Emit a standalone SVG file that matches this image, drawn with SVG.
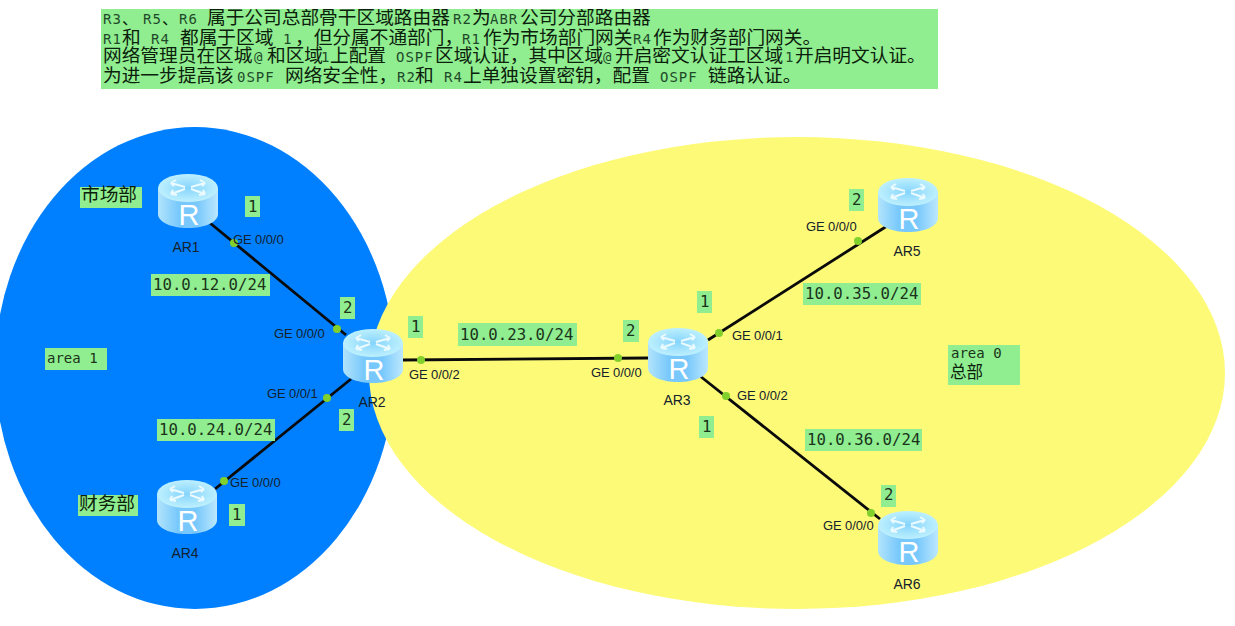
<svg xmlns="http://www.w3.org/2000/svg" width="1235" height="626" viewBox="0 0 1235 626">
<style>
.lb{fill:#90ee90}
.m{font-family:"DejaVu Sans Mono","Liberation Mono",monospace;font-size:15.7px;fill:#1a331a}
.n{font-family:"DejaVu Sans Mono","Liberation Mono","Noto Sans CJK SC",monospace;font-size:14px;letter-spacing:1px;fill:#1f4a2a}
.c{font-family:"Noto Sans CJK SC",sans-serif;font-size:18.7px;fill:#0b200b}
.if{font-family:"Liberation Sans",Arial,sans-serif;font-size:13px;letter-spacing:-.1px;fill:#14222c}
.rn{font-family:"Liberation Sans",Arial,sans-serif;font-size:14px;fill:#14222c}
.ln{stroke:#0a0a0a;stroke-width:2.8;fill:none}
.dot{fill:#82d02c}
.ar{fill:none;stroke:#eafaff;stroke-width:2}
</style>
<defs>
<linearGradient id="side" x1="0" x2="1" y1="0" y2="0"><stop offset="0" stop-color="#b2e4fb"/><stop offset=".35" stop-color="#78c8fc"/><stop offset=".65" stop-color="#78c8fc"/><stop offset="1" stop-color="#bce8fd"/></linearGradient>
<radialGradient id="top"><stop offset="0" stop-color="#86d4fc"/><stop offset="1" stop-color="#bdf0fe"/></radialGradient>
<clipPath id="bc"><rect x="101" y="9" width="837" height="80"/></clipPath>
<g id="router">
<path d="M0 14V40C0 48 13 54 30 54S60 48 60 40V14Z" fill="url(#side)"/>
<ellipse cx="30" cy="14" rx="30" ry="14" fill="url(#top)"/>
<path class="ar" d="M13 9L27 13M13 9l5-3M13 9l3 3M47 9L33 13M47 9l-5-3M47 9l-3 3M13 20L27 15M13 20l6 1M13 20l2-4M47 20L33 15M47 20l-6 1M47 20l-2-4"/>
<text x="31" y="51" text-anchor="middle" font-family="Liberation Sans,Arial,sans-serif" font-size="29" fill="#fff">R</text>
</g>
</defs>
<rect width="1235" height="626" fill="#fff"/>
<ellipse cx="195" cy="368" rx="200" ry="241" fill="#0080ff"/>
<ellipse cx="797" cy="373" rx="428" ry="236" fill="#fdfa78"/>
<g id="note">
<rect class="lb" x="101" y="9" width="837" height="80"/>
<text clip-path="url(#bc)"><tspan class="n" x="103" y="23.5">R3</tspan><tspan class="c" x="122" y="23.5" style="font-size:16px">、</tspan><tspan class="n" x="143" y="23.5">R5</tspan><tspan class="c" x="162" y="23.5" style="font-size:16px">、</tspan><tspan class="n" x="179" y="23.5">R6</tspan><tspan class="c" x="207" y="23.5">属于公司总部骨干区域路由器</tspan><tspan class="n" x="453" y="23.5">R2</tspan><tspan class="c" x="472" y="23.5">为</tspan><tspan class="n" x="490" y="23.5">ABR</tspan><tspan class="c" x="520" y="23.5">公司分部路由器</tspan><tspan class="n" x="103" y="43.5">R1</tspan><tspan class="c" x="122" y="43.5">和</tspan><tspan class="n" x="151" y="43.5">R4</tspan><tspan class="c" x="180" y="43.5">都属于区域</tspan><tspan class="n" x="283" y="43.5">1</tspan><tspan class="c" x="295" y="43.5">，但分属不通部门，</tspan><tspan class="n" x="462" y="43.5">R1</tspan><tspan class="c" x="483" y="43.5">作为市场部门网关</tspan><tspan class="n" x="633" y="43.5">R4</tspan><tspan class="c" x="653" y="43.5">作为财务部门网关。</tspan><tspan class="c" x="103" y="62">网络管理员在区城</tspan><tspan class="n" x="254" y="62">@</tspan><tspan class="c" x="267" y="62">和区域</tspan><tspan class="n" x="321" y="62">1</tspan><tspan class="c" x="330" y="62">上配置</tspan><tspan class="n" x="396" y="62">OSPF</tspan><tspan class="c" x="435" y="62">区域认证，其中区域</tspan><tspan class="n" x="603" y="62">@</tspan><tspan class="c" x="615" y="62">开启密文认证工区域</tspan><tspan class="n" x="785" y="62">1</tspan><tspan class="c" x="795" y="62">开启明文认证。</tspan><tspan class="c" x="103" y="82">为进一步提高该</tspan><tspan class="n" x="237" y="82">0SPF</tspan><tspan class="c" x="285" y="82">网络安全性，</tspan><tspan class="n" x="397" y="82">R2</tspan><tspan class="c" x="415" y="82">和</tspan><tspan class="n" x="444" y="82">R4</tspan><tspan class="c" x="463" y="82">上单独设置密钥，配置</tspan><tspan class="n" x="660" y="82">OSPF</tspan><tspan class="c" x="708" y="82">链路认证。</tspan></text>
</g>
<g id="connectors">
<path class="ln" d="M210 223L346 335"/>
<path class="ln" d="M351 379L215 489"/>
<path class="ln" d="M403 360L648 358"/>
<path class="ln" d="M708 340L887 226"/>
<path class="ln" d="M700 376L880 519"/>
</g>
<g id="ports">
<circle class="dot" cx="234" cy="243" r="4"/><circle class="dot" cx="337" cy="329" r="4"/><circle class="dot" cx="421" cy="360" r="4"/><circle class="dot" cx="327" cy="398" r="4"/><circle class="dot" cx="224" cy="481" r="4"/><circle class="dot" cx="618" cy="358" r="4"/><circle class="dot" cx="719" cy="333" r="4"/><circle class="dot" cx="726" cy="396" r="4"/><circle class="dot" cx="858" cy="241" r="4"/><circle class="dot" cx="871" cy="513" r="4"/>
<text class="if" x="233" y="244">GE 0/0/0</text><text class="if" x="274" y="338">GE 0/0/0</text><text class="if" x="409" y="379">GE 0/0/2</text><text class="if" x="267" y="398">GE 0/0/1</text><text class="if" x="230" y="487">GE 0/0/0</text><text class="if" x="591" y="377">GE 0/0/0</text><text class="if" x="732" y="340">GE 0/0/1</text><text class="if" x="737" y="400">GE 0/0/2</text><text class="if" x="806" y="231">GE 0/0/0</text><text class="if" x="823" y="530">GE 0/0/0</text>
</g>
<g id="AR1"><use href="#router" x="158" y="174"/><text class="rn" x="186" y="252" text-anchor="middle">AR1</text></g>
<g id="AR2"><use href="#router" x="343" y="329"/><text class="rn" x="372" y="407" text-anchor="middle">AR2</text></g>
<g id="AR3"><use href="#router" x="648" y="328"/><text class="rn" x="677" y="405" text-anchor="middle">AR3</text></g>
<g id="AR4"><use href="#router" x="157" y="480"/><text class="rn" x="185" y="558" text-anchor="middle">AR4</text></g>
<g id="AR5"><use href="#router" x="878" y="178"/><text class="rn" x="907" y="256" text-anchor="middle">AR5</text></g>
<g id="AR6"><use href="#router" x="878" y="511"/><text class="rn" x="907" y="589" text-anchor="middle">AR6</text></g>
<g id="labels">
<rect class="lb" x="80" y="187" width="62" height="21"/><text class="c" x="81" y="201">市场部</text>
<rect class="lb" x="78" y="495" width="60" height="21"/><text class="c" x="79" y="510">财务部</text>
<rect class="lb" x="245" y="196" width="15" height="21"/><text class="m" x="248" y="212">1</text>
<rect class="lb" x="340" y="297" width="15" height="22"/><text class="m" x="343" y="313">2</text>
<rect class="lb" x="408" y="316" width="15" height="22"/><text class="m" x="411" y="332">1</text>
<rect class="lb" x="623" y="320" width="16" height="22"/><text class="m" x="626" y="336">2</text>
<rect class="lb" x="697" y="291" width="15" height="22"/><text class="m" x="700" y="307">1</text>
<rect class="lb" x="849" y="189" width="15" height="22"/><text class="m" x="852" y="205">2</text>
<rect class="lb" x="339" y="409" width="15" height="22"/><text class="m" x="342" y="425">2</text>
<rect class="lb" x="229" y="504" width="16" height="22"/><text class="m" x="232" y="520">1</text>
<rect class="lb" x="699" y="416" width="15" height="22"/><text class="m" x="702" y="432">1</text>
<rect class="lb" x="881" y="485" width="15" height="22"/><text class="m" x="884" y="500">2</text>
<rect class="lb" x="151" y="274" width="119" height="22"/><text class="m" x="153" y="290">10.0.12.0/24</text>
<rect class="lb" x="458" y="323" width="119" height="23"/><text class="m" x="460" y="340">10.0.23.0/24</text>
<rect class="lb" x="803" y="283" width="118" height="22"/><text class="m" x="805" y="299">10.0.35.0/24</text>
<rect class="lb" x="157" y="419" width="118" height="22"/><text class="m" x="159" y="435">10.0.24.0/24</text>
<rect class="lb" x="805" y="429" width="117" height="22"/><text class="m" x="807" y="445">10.0.36.0/24</text>
<rect class="lb" x="45" y="348" width="62" height="22"/><text class="m" x="47" y="363" style="font-size:14px">area 1</text>
<rect class="lb" x="948" y="345" width="72" height="40"/><text class="m" x="951" y="358" style="font-size:14px">area 0</text><text class="c" x="950" y="378" style="font-size:16.5px">总部</text>
</g>
</svg>
